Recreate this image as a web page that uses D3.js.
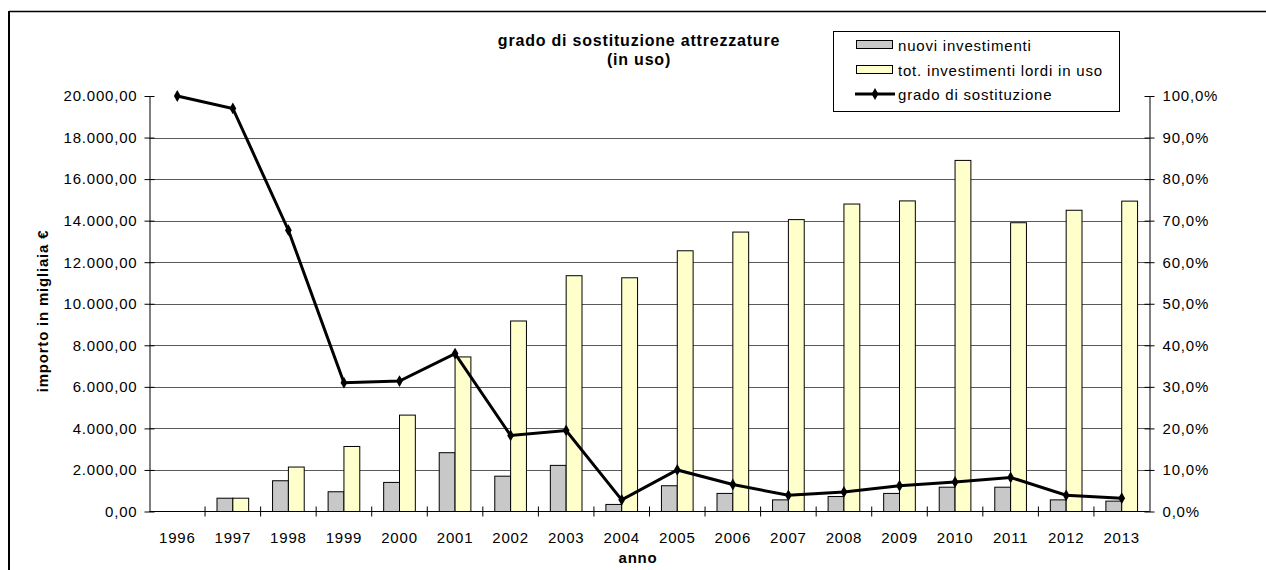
<!DOCTYPE html>
<html>
<head>
<meta charset="utf-8">
<script src="https://cdn.jsdelivr.net/npm/d3@7"></script>
<style>
  body { margin: 0; background: #fff; }
  svg { display: block; font-family: "Liberation Sans", Arial, sans-serif; }
</style>
</head>
<body>
<script>
// data
var anni = ["1996","1997","1998","1999","2000","2001","2002","2003","2004",
            "2005","2006","2007","2008","2009","2010","2011","2012","2013"];
var nuovi = [0, 640, 1480, 950, 1400, 2830, 1700, 2220, 340,
             1240, 870, 560, 720, 870, 1170, 1170, 560, 500];
var totLordi = [0, 640, 2140, 3130, 4640, 7440, 9170, 11350, 11250,
                12550, 13450, 14050, 14800, 14950, 16900, 13900, 14500, 14940];
var grado = [100, 97.0, 67.7, 31.0, 31.4, 38.0, 18.3, 19.5, 2.8,
             10.0, 6.5, 3.9, 4.7, 6.2, 7.1, 8.2, 3.9, 3.2];
var leftTicks = [0, 2000, 4000, 6000, 8000, 10000, 12000, 14000, 16000, 18000, 20000];
var rightTicks = [0, 10, 20, 30, 40, 50, 60, 70, 80, 90, 100];

var W = 1266, H = 570;
var pLeft = 149.5, pRight = 1149.5, pTop = 96, pBottom = 511.5;
var FS = 15, LS = "0.8px";

var svg = d3.select("body").append("svg")
    .attr("width", W).attr("height", H);

// outer frame (top and left edges visible)
svg.append("line").attr("x1", 9).attr("x2", W).attr("y1", 11.5).attr("y2", 11.5)
    .attr("stroke", "#000").attr("stroke-width", 1.5);
svg.append("line").attr("x1", 9).attr("x2", 9).attr("y1", 11).attr("y2", H)
    .attr("stroke", "#000").attr("stroke-width", 2);

var x = d3.scaleBand().domain(anni).range([pLeft, pRight]);
var yL = d3.scaleLinear().domain([0, 20000]).range([pBottom, pTop]);
var yR = d3.scaleLinear().domain([0, 100]).range([pBottom, pTop]);

var fmtEuro = function(v){
  return d3.format(",.2f")(v).replace(/,/g, "#").replace(".", ",").replace(/#/g, ".");
};
var fmtPct = function(v){ return d3.format(".1f")(v).replace(".", ",") + "%"; };

// gridlines
svg.append("g").selectAll("line")
  .data(leftTicks.filter(d => d > 0 && d < 20000))
  .join("line")
    .attr("x1", pLeft).attr("x2", pRight)
    .attr("y1", d => Math.round(yL(d)) + 0.5).attr("y2", d => Math.round(yL(d)) + 0.5)
    .attr("stroke", "#5a5a5a").attr("stroke-width", 1);

// bars
var bw = x.bandwidth() * 0.285;
var gBars = svg.append("g");
gBars.selectAll(".nuovi")
  .data(nuovi.map((v, i) => ({anno: anni[i], v: v})).filter(d => d.v > 0))
  .join("rect")
    .attr("x", d => x(d.anno) + x.bandwidth() / 2 - bw)
    .attr("width", bw)
    .attr("y", d => yL(d.v))
    .attr("height", d => pBottom - yL(d.v))
    .attr("fill", "#c8c8c8").attr("stroke", "#000").attr("stroke-width", 1);
gBars.selectAll(".lordi")
  .data(totLordi.map((v, i) => ({anno: anni[i], v: v})).filter(d => d.v > 0))
  .join("rect")
    .attr("x", d => x(d.anno) + x.bandwidth() / 2)
    .attr("width", bw)
    .attr("y", d => yL(d.v))
    .attr("height", d => pBottom - yL(d.v))
    .attr("fill", "#ffffcc").attr("stroke", "#000").attr("stroke-width", 1);

// axes
var axL = svg.append("g").attr("transform", "translate(" + pLeft + ",0)")
  .call(d3.axisLeft(yL).tickValues(leftTicks).tickFormat(fmtEuro).tickSizeOuter(0).tickSizeInner(5).tickPadding(7));
var axR = svg.append("g").attr("transform", "translate(" + pRight + ",0)")
  .call(d3.axisRight(yR).tickValues(rightTicks).tickFormat(fmtPct).tickSizeOuter(0).tickSizeInner(5).tickPadding(8));
[axL, axR].forEach(function(a){
  a.select(".domain").attr("stroke", "#000");
  a.selectAll(".tick line").attr("stroke", "#000").attr("x1", -5).attr("x2", 5);
  a.selectAll("text").attr("font-size", FS).attr("fill", "#000")
    .style("letter-spacing", LS)
    .attr("font-family", "'Liberation Sans', Arial, sans-serif");
});

var gx = svg.append("g").attr("transform", "translate(0," + pBottom + ")");
gx.append("line").attr("x1", pLeft).attr("x2", pRight).attr("stroke", "#000");
gx.selectAll(".bt").data(anni.slice(1))
  .join("line")
    .attr("x1", d => x(d)).attr("x2", d => x(d))
    .attr("y1", -5).attr("y2", 5).attr("stroke", "#000");
gx.selectAll("text").data(anni)
  .join("text")
    .attr("x", d => x(d) + x.bandwidth() / 2)
    .attr("y", 31)
    .attr("text-anchor", "middle")
    .attr("font-size", FS)
    .style("letter-spacing", LS)
    .text(d => d);

// line
var line = d3.line()
  .x((d, i) => x(anni[i]) + x.bandwidth() / 2)
  .y(d => yR(d));
svg.append("path").datum(grado)
  .attr("d", line).attr("fill", "none")
  .attr("stroke", "#000").attr("stroke-width", 3);
svg.append("g").selectAll("path")
  .data(grado)
  .join("path")
    .attr("transform", (d, i) => "translate(" + (x(anni[i]) + x.bandwidth() / 2) + "," + yR(d) + ")")
    .attr("d", d3.symbol(d3.symbolDiamond, 40))
    .attr("fill", "#000");

// titles
svg.append("text").attr("x", 639).attr("y", 46).attr("text-anchor", "middle")
  .attr("font-size", 16).attr("font-weight", "bold").style("letter-spacing", LS)
  .text("grado di sostituzione attrezzature");
svg.append("text").attr("x", 639).attr("y", 65).attr("text-anchor", "middle")
  .attr("font-size", 16).attr("font-weight", "bold").style("letter-spacing", LS)
  .text("(in uso)");
svg.append("text").attr("x", 638).attr("y", 563).attr("text-anchor", "middle")
  .attr("font-size", FS).attr("font-weight", "bold").style("letter-spacing", LS)
  .text("anno");
svg.append("text")
  .attr("transform", "translate(48,311) rotate(-90)")
  .attr("text-anchor", "middle")
  .attr("font-size", FS).attr("font-weight", "bold").style("letter-spacing", LS)
  .text("importo in migliaia €");

// legend
var lg = svg.append("g");
lg.append("rect").attr("x", 833.5).attr("y", 31.5).attr("width", 286).attr("height", 80)
  .attr("fill", "#fff").attr("stroke", "#000");
var legItems = [
  {label: "nuovi investimenti", type: "rect", fill: "#c8c8c8"},
  {label: "tot. investimenti lordi in uso", type: "rect", fill: "#ffffcc"},
  {label: "grado di sostituzione", type: "line"}
];
var legY = [45, 70, 94];
legItems.forEach(function(it, i){
  var yy = legY[i];
  if (it.type === "rect") {
    lg.append("rect").attr("x", 856.5).attr("y", yy - 4.5).attr("width", 36).attr("height", 8)
      .attr("fill", it.fill).attr("stroke", "#000");
  } else {
    lg.append("line").attr("x1", 855).attr("x2", 895).attr("y1", yy).attr("y2", yy)
      .attr("stroke", "#000").attr("stroke-width", 3);
    lg.append("path").attr("transform", "translate(875," + yy + ")")
      .attr("d", d3.symbol(d3.symbolDiamond, 40)).attr("fill", "#000");
  }
  lg.append("text").attr("x", 898).attr("y", yy + 5.5).attr("font-size", FS)
    .style("letter-spacing", LS).text(it.label);
});
</script>
</body>
</html>
